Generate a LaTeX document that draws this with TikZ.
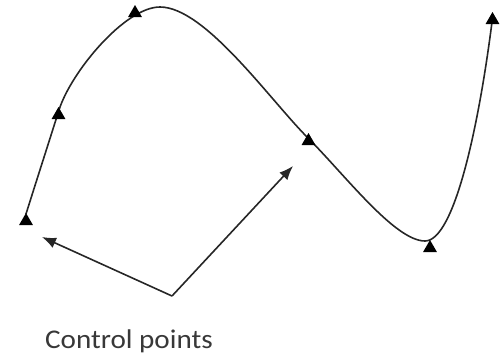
\documentclass[tikz,border=0pt]{standalone}
\usepackage{fontspec}
\setmainfont{Carlito}
\usetikzlibrary{shapes.geometric,arrows.meta}
\begin{document}
\begin{tikzpicture}[x=1pt,y=-1pt,
  cpt/.style={regular polygon,regular polygon sides=3,minimum size=16pt,inner sep=0pt,fill=black,draw=none},
  curve/.style={line width=1.6pt,draw=black!85},
  ctrl/.style={line width=1.6pt,draw=black!85,-{Latex[length=14pt,width=11pt]}},
  lbl/.style={font=\fontsize{27}{31}\selectfont,text=black!78,inner sep=0pt,xscale=1.08}]
\useasboundingbox (0,0) rectangle (501,357);
% curve
\coordinate (a) at (26,214);
\coordinate (b) at (59,110);
\coordinate (pk) at (160,7);
\coordinate (d) at (308,138);
\coordinate (e) at (425,241);
\coordinate (f) at (493,14);
\draw[curve] (a) .. controls (37,179) and (47,148) .. (b)
  .. controls (71,72) and (125,7) .. (pk)
  .. controls (205,7) and (270,100) .. (d)
  .. controls (345,175) and (395,241) .. (e)
  .. controls (455,241) and (480,120) .. (f);
% control point markers
\node[cpt] (p1) at (26,221) {};
\node[cpt] (p2) at (58.5,115) {};
\node[cpt] (p3) at (135,13) {};
\node[cpt] (p4) at (308.5,141) {};
\node[cpt] (p5) at (430,248) {};
\node[cpt] (p6) at (492.5,20) {};
% arrows
\coordinate (v) at (172,296);
\coordinate (t1) at (42,237);
\coordinate (t2) at (293,166);
\draw[ctrl] (v) -- (t1);
\draw[ctrl] (v) -- (t2);
\node[lbl,anchor=base] (cp) at (129,348) {Control points};
\end{tikzpicture}
\end{document}
